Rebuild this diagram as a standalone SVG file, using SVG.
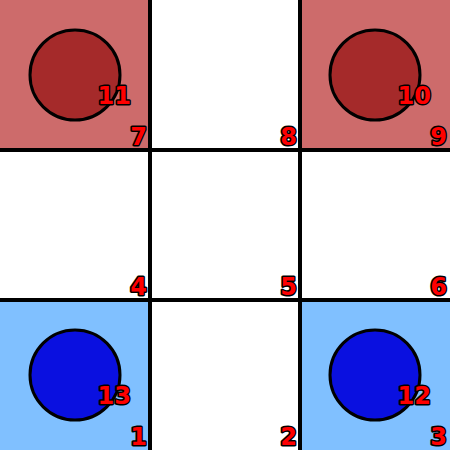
<svg xmlns="http://www.w3.org/2000/svg" width="450" height="450" viewBox="0 0 450 450">
<style>
.red{fill:#cd6b6b}
.blue{fill:#80c0ff}
.rc{fill:#a52a2a;stroke:#000;stroke-width:3}
.bc{fill:#0a10e0;stroke:#000;stroke-width:3}
.grid line{stroke:#000;stroke-width:4}
text{font-family:"DejaVu Sans",sans-serif;font-weight:bold;font-size:24px;fill:#ff0000;stroke:#000;stroke-width:3;paint-order:stroke;stroke-linejoin:round;text-anchor:end}
</style>
<rect width="450" height="450" fill="#fff"/>
<g id="cell7"><rect class="red" x="0" y="0" width="150" height="150"/><text x="147" y="145">7</text></g>
<g id="cell8"><text x="297" y="145">8</text></g>
<g id="cell9"><rect class="red" x="300" y="0" width="150" height="150"/><text x="447" y="145">9</text></g>
<g id="cell4"><text x="147" y="295">4</text></g>
<g id="cell5"><text x="297" y="295">5</text></g>
<g id="cell6"><text x="447" y="295">6</text></g>
<g id="cell1"><rect class="blue" x="0" y="300" width="150" height="150"/><text x="147" y="445">1</text></g>
<g id="cell2"><text x="297" y="445">2</text></g>
<g id="cell3"><rect class="blue" x="300" y="300" width="150" height="150"/><text x="447" y="445">3</text></g>
<g class="grid">
<line x1="150" y1="0" x2="150" y2="450"/>
<line x1="300" y1="0" x2="300" y2="450"/>
<line x1="0" y1="150" x2="450" y2="150"/>
<line x1="0" y1="300" x2="450" y2="300"/>
</g>
<g id="piece11"><circle class="rc" cx="75" cy="75" r="45"/><text x="131" y="104">11</text></g>
<g id="piece10"><circle class="rc" cx="375" cy="75" r="45"/><text x="431" y="104">10</text></g>
<g id="piece13"><circle class="bc" cx="75" cy="375" r="45"/><text x="131" y="404">13</text></g>
<g id="piece12"><circle class="bc" cx="375" cy="375" r="45"/><text x="431" y="404">12</text></g>
</svg>
